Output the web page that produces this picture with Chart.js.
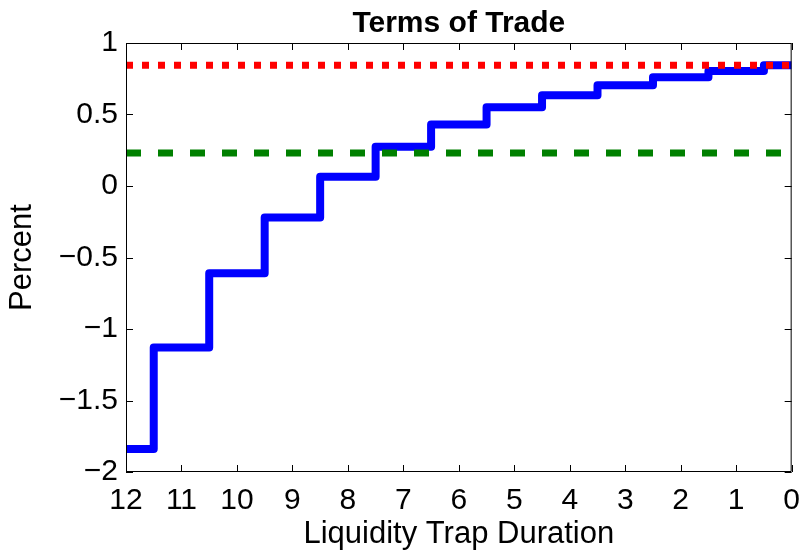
<!DOCTYPE html>
<html>
<head>
<meta charset="utf-8">
<script src="https://cdn.jsdelivr.net/npm/chart.js@4.4.1/dist/chart.umd.min.js"></script>
<style>
  html, body { margin: 0; padding: 0; background: #fff; }
</style>
</head>
<body>
<canvas id="tot" width="811" height="555"></canvas>
<script>
// durations run from 12 down to 0 (axis is reversed)
var durations = [12, 11, 10, 9, 8, 7, 6, 5, 4, 3, 2, 1, 0];
var termsOfTrade = [-1.84, -1.13, -0.61, -0.22, 0.065, 0.275, 0.43, 0.55, 0.635, 0.705, 0.76, 0.805, 0.845];
var upperLevel = [0.845, 0.845];   // red dotted
var lowerLevel = [0.23, 0.23];     // green dashed
var levelSpan = [12, 0];
var xTickValues = [12, 11, 10, 9, 8, 7, 6, 5, 4, 3, 2, 1, 0];
var yTickValues = [-2, -1.5, -1, -0.5, 0, 0.5, 1];

function pairs(xs, ys) {
  return xs.map(function (x, i) { return { x: x, y: ys[i] }; });
}

function fmt(v) {
  return v < 0 ? "\u2212" + Math.abs(v) : String(v);
}

// matlab style box with ticks pointing inward on all four sides
var innerTicks = {
  id: "innerTicks",
  afterDraw: function (chart) {
    var ctx = chart.ctx, a = chart.chartArea;
    var sx = chart.scales.x, sy = chart.scales.y, len = 7;
    ctx.save();
    ctx.strokeStyle = "#000";
    ctx.lineWidth = 1;
    ctx.beginPath();
    ctx.rect(a.left + 0.5, a.top + 0.5, a.right - a.left - 1, a.bottom - a.top - 1);
    xTickValues.forEach(function (v) {
      var px = Math.round(sx.getPixelForValue(v)) + 0.5;
      ctx.moveTo(px, a.bottom); ctx.lineTo(px, a.bottom - len);
      ctx.moveTo(px, a.top); ctx.lineTo(px, a.top + len);
    });
    yTickValues.forEach(function (v) {
      var py = Math.round(sy.getPixelForValue(v)) + 0.5;
      ctx.moveTo(a.left, py); ctx.lineTo(a.left + len, py);
      ctx.moveTo(a.right, py); ctx.lineTo(a.right - len, py);
    });
    ctx.stroke();
    ctx.restore();
  }
};

Chart.defaults.font.family = "'Liberation Sans', Arial, sans-serif";
Chart.defaults.color = "#000";

var ctx = document.getElementById("tot").getContext("2d");
var chart = new Chart(ctx, {
  type: "line",
  data: {
    datasets: [
      {
        label: "Terms of Trade",
        data: pairs(durations, termsOfTrade),
        stepped: "middle",
        borderColor: "#0000ff",
        borderWidth: 8,
        borderJoinStyle: "round",
        pointRadius: 0,
        order: 3,
      },
      {
        label: "lower",
        data: pairs(levelSpan, lowerLevel),
        borderColor: "#008000",
        borderWidth: 7,
        borderDash: [15, 17],
        borderCapStyle: "butt",
        pointRadius: 0,
        order: 2,
      },
      {
        label: "upper",
        data: pairs(levelSpan, upperLevel),
        borderColor: "#ff0000",
        borderWidth: 7,
        borderDash: [7, 9],
        borderCapStyle: "butt",
        pointRadius: 0,
        order: 1,
      },
    ],
  },
  options: {
    responsive: false,
    animation: false,
    layout: { padding: { left: 0, right: 10, top: 0, bottom: 0 } },
    plugins: {
      legend: { display: false },
      tooltip: { enabled: false },
      title: {
        display: true,
        text: "Terms of Trade",
        fullSize: false,
        font: { size: 30, weight: "bold", lineHeight: 1.2 },
        padding: { top: 6, bottom: 1 },
        color: "#000",
      },
    },
    scales: {
      x: {
        type: "linear",
        reverse: true,
        min: 0,
        max: 12,
        afterBuildTicks: function (s) {
          s.ticks = xTickValues.map(function (v) { return { value: v }; });
        },
        afterFit: function (s) { s.height = 83; },
        grid: { display: false, drawTicks: false },
        border: { display: false },
        ticks: {
          font: { size: 30 },
          padding: 11,
          maxRotation: 0,
          callback: fmt,
        },
        title: {
          display: true,
          text: "Liquidity Trap Duration",
          font: { size: 31, lineHeight: 1.2 },
          padding: { top: 0, bottom: 2 },
        },
      },
      y: {
        min: -2,
        max: 1,
        afterBuildTicks: function (s) {
          s.ticks = yTickValues.map(function (v) { return { value: v }; });
        },
        afterFit: function (s) { s.width = 126; },
        grid: { display: false, drawTicks: false },
        border: { display: false },
        ticks: {
          font: { size: 30 },
          padding: 8,
          callback: fmt,
        },
        title: {
          display: true,
          text: "Percent",
          font: { size: 31, lineHeight: 1.2 },
          padding: { top: 4, bottom: 0 },
        },
      },
    },
  },
  plugins: [innerTicks],
});
</script>
</body>
</html>
